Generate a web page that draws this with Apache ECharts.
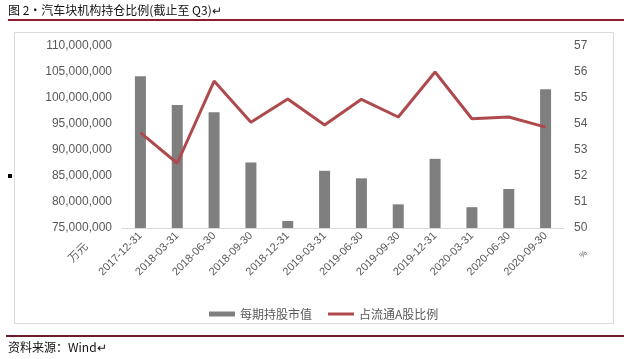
<!DOCTYPE html>
<html><head><meta charset="utf-8">
<script src="https://cdn.jsdelivr.net/npm/echarts@6/dist/echarts.min.js"></script>
<style>html,body{margin:0;padding:0;background:#fff}#c{width:624px;height:359px}</style>
</head><body><div id="c"></div>
<script>
const categories = ['2017-12-31','2018-03-31','2018-06-30','2018-09-30','2018-12-31','2019-03-31','2019-06-30','2019-09-30','2019-12-31','2020-03-31','2020-06-30','2020-09-30'];
const marketValue = [104200000, 98650000, 97250000, 87600000, 76350000, 86000000, 84550000, 79550000, 88300000, 79000000, 82500000, 101700000];
const shareRatio = [53.67, 52.49, 55.65, 54.07, 54.96, 53.96, 54.95, 54.27, 56.0, 54.2, 54.27, 53.88];
const seriesNames = ['每期持股市值', '占流通A股比例'];
const titleText = '图 2·汽车块机构持仓比例(截止至 Q3)↵';
const sourceText = '资料来源：Wind↵';

const chart = echarts.init(document.getElementById('c'), null, {renderer: 'canvas'});
const fmt = v => String(v).replace(/\B(?=(\d{3})+(?!\d))/g, ',');
chart.setOption({
  animation: false,
  backgroundColor: '#fff',
  grid: {left: 122, right: 60, top: 46, bottom: 131},
  legend: {
    left: 204, top: 303, itemWidth: 26, itemHeight: 5, itemGap: 16,
    textStyle: {color: '#595959', fontSize: 12, fontFamily: 'Noto Sans CJK SC'},
    data: [{name: seriesNames[0], icon: 'rect'}, {name: seriesNames[1], icon: 'path://M0,1 L26,1 L26,4 L0,4 Z'}]
  },
  xAxis: {
    type: 'category', data: categories, boundaryGap: true,
    axisTick: {show: false},
    axisLine: {lineStyle: {color: '#D9D9D9', width: 1}},
    axisLabel: {rotate: 45, color: '#595959', fontSize: 11, margin: 6, fontFamily: 'Liberation Sans'}
  },
  yAxis: [{
    type: 'value', min: 75000000, max: 110000000, interval: 5000000,
    splitLine: {show: false}, axisLine: {show: false}, axisTick: {show: false},
    axisLabel: {color: '#595959', fontSize: 12, margin: 10, formatter: fmt, fontFamily: 'Liberation Sans'}
  }, {
    type: 'value', min: 50, max: 57, interval: 1,
    splitLine: {show: false}, axisLine: {show: false}, axisTick: {show: false},
    axisLabel: {color: '#595959', fontSize: 12, margin: 10, fontFamily: 'Liberation Sans'}
  }],
  series: [{
    name: seriesNames[0], type: 'bar', data: marketValue, barWidth: 11,
    itemStyle: {color: '#7F7F7F'}
  }, {
    name: seriesNames[1], type: 'line', yAxisIndex: 1, data: shareRatio,
    symbol: 'none', lineStyle: {color: '#AE4A4D', width: 3}, itemStyle: {color: '#AE4A4D'}
  }],
  graphic: [
    {type: 'text', left: 8, top: 4, style: {text: titleText, fontSize: 12, fill: '#111', fontFamily: 'Noto Sans CJK SC'}},
    {type: 'rect', shape: {x: 8, y: 19, width: 616, height: 2}, style: {fill: '#8B1E2E'}},
    {type: 'rect', shape: {x: 14.5, y: 32.5, width: 599, height: 291}, style: {fill: 'none', stroke: '#D9D9D9', lineWidth: 1}},
    {type: 'rect', shape: {x: 8, y: 174, width: 4, height: 4}, style: {fill: '#000'}},
    {type: 'rect', shape: {x: 6, y: 335, width: 618, height: 2}, style: {fill: '#6B1E2A'}},
    {type: 'text', left: 8, top: 341, style: {text: sourceText, fontSize: 12, fill: '#111', fontFamily: 'Noto Sans CJK SC'}},
    {type: 'text', x: 66, y: 256, rotation: Math.PI / 4, style: {text: '万元', fontSize: 11, fill: '#595959', fontFamily: 'Noto Sans CJK SC'}},
    {type: 'text', x: 578, y: 254, rotation: Math.PI / 4, style: {text: '%', fontSize: 8, fill: '#595959', fontFamily: 'Liberation Sans'}}
  ]
});
</script></body></html>
